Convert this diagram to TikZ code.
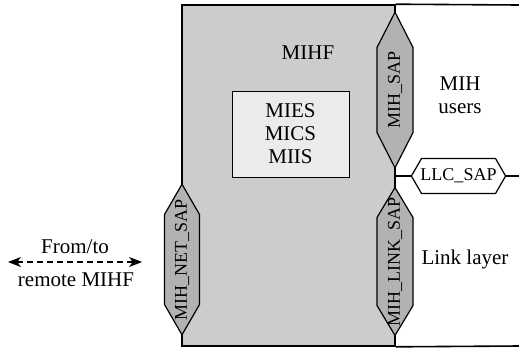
\documentclass[tikz,border=0pt]{standalone}
\usepackage{fontspec}
\setmainfont{Liberation Serif}
\usetikzlibrary{arrows.meta,shapes.symbols,positioning}

\begin{document}
\begin{tikzpicture}[x=1pt, y=-1pt, every node/.style={font=\fontsize{21}{23}\selectfont}, >={Stealth[length=4.5mm, width=3.5mm, inset=1.2mm]},
	sap/.style={draw, line width=1.2pt, fill=gray!60, shape=signal, signal to=east and west, signal pointer angle=58, inner ysep=0pt, minimum height=36pt, rotate=90, font=\fontsize{18}{20}\selectfont}]
	\useasboundingbox (0,0) rectangle (519,349);
	% MIHF block
	\node[draw, line width=1.6pt, fill=gray!40, minimum width=213pt, minimum height=341pt, inner sep=0pt] (mihf) at (288.5,175.5) {};
	\node (mihftitle) at (308,53) {MIHF};
	\node[draw, line width=0.8pt, fill=gray!16, minimum width=117pt, minimum height=86pt, align=center, inner sep=0pt] (services) at (290.5,134) {MIES\\MICS\\MIIS};
	% right side lines
	\coordinate (rtop) at (519,5);
	\coordinate (rbot) at (519,346);
	\coordinate (rmid) at (519,176);
	\draw[line width=1.6pt] (mihf.north east) -- (rtop);
	\draw[line width=1.6pt] (mihf.south east) -- (rbot);
	\node[sap, signal pointer angle=120, rotate=-90, inner xsep=-1pt, minimum height=35pt, fill=white] (llcsap) at (458.5,176) {LLC\_SAP};
	\draw[line width=1.6pt] (mihf.east |- llcsap) -- (llcsap.west);
	\draw[line width=1.6pt] (llcsap.east) -- (rmid);
	% access points
	\node[sap, signal pointer angle=54, inner xsep=4pt] (mihsap) at (395,90) {MIH\_SAP};
	\node[sap, signal pointer angle=62, inner xsep=-20.5pt] (mihlinksap) at (395,261.5) {MIH\_LINK\_SAP};
	\node[sap, signal pointer angle=60, inner xsep=-15.5pt, minimum height=35pt] (mihnetsap) at (182,259.5) {MIH\_NET\_SAP};
	% labels
	\node[align=center] (users) at (460,95) {MIH\\users};
	\node (linklayer) at (465,259) {Link layer};
	% remote link
	\coordinate (netL) at (8,262);
	\coordinate (netR) at (142,262);
	\draw[<->, dashed, line width=1.3pt, dash pattern=on 6pt off 4pt] (netL) -- (netR);
	\node (fromto) at (75,247) {From/to};
	\node (remote) at (76,280) {remote MIHF};
\end{tikzpicture}
\end{document}
